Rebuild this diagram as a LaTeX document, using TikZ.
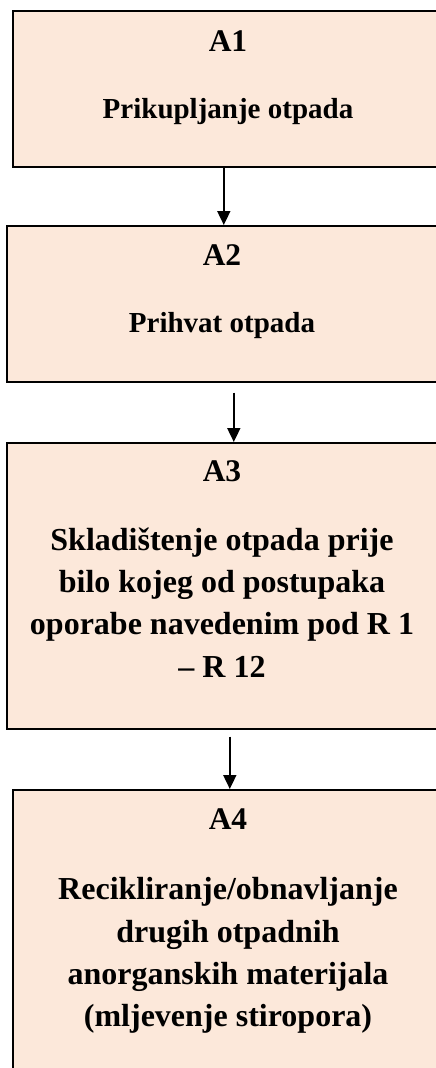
\documentclass[tikz,border=0pt]{standalone}
\usepackage{fontspec}
\setmainfont{Liberation Serif}
\usetikzlibrary{arrows.meta}
\definecolor{boxfill}{HTML}{FCE8DA}
\begin{document}
\begin{tikzpicture}[x=1pt,y=-1pt,
  box/.style={draw=black, line width=1.6pt, fill=boxfill, inner sep=0pt, anchor=north west},
  lbl/.style={font=\fontsize{29}{42}\selectfont\bfseries, anchor=base, inner sep=0pt, align=center},
  big/.style={font=\fontsize{32}{42.3}\selectfont\bfseries},
  head/.style={font=\fontsize{31.5}{42}\selectfont\bfseries},
  arr/.style={line width=1.8pt, -{Triangle[length=14pt,width=13pt]}}]
\useasboundingbox (0,0) rectangle (436,1068);
\clip (0,0) rectangle (436,1068);
\node[box, minimum width=432pt, minimum height=156pt] (b1) at (12,10) {};
\node[box, minimum width=432pt, minimum height=156pt] (b2) at (6,225) {};
\node[box, minimum width=432pt, minimum height=286pt] (b3) at (6,442) {};
\node[box, minimum width=432pt, minimum height=300pt] (b4) at (12,789) {};
\node[lbl, head] (t1a) at (228,51.7) {A1};
\node[lbl] (t1b) at (228,118) {Prikupljanje otpada};
\node[lbl, head] (t2a) at (222,265.7) {A2};
\node[lbl] (t2b) at (222,332.7) {Prihvat otpada};
\node[lbl, head] (t3a) at (222,481.7) {A3};
\node[lbl, big] (t3b) at (222,677) {Skladištenje otpada prije\\bilo kojeg od postupaka\\oporabe navedenim pod R 1\\– R 12};
\node[lbl, head] (t4a) at (228,829.3) {A4};
\node[lbl, big] (t4b) at (228,1026.7) {Recikliranje/obnavljanje\\drugih otpadnih\\anorganskih materijala\\(mljevenje stiropora)};
\draw[arr] ([xshift=-5pt]b1.south) -- ([xshift=-5pt]b1.south |- b2.north);
\draw[arr] ([xshift=11pt,yshift=-10pt]b2.south) -- ([xshift=11pt]b2.south |- b3.north);
\draw[arr] ([xshift=7pt,yshift=-7pt]b3.south) -- ([xshift=7pt]b3.south |- b4.north);
\end{tikzpicture}
\end{document}
